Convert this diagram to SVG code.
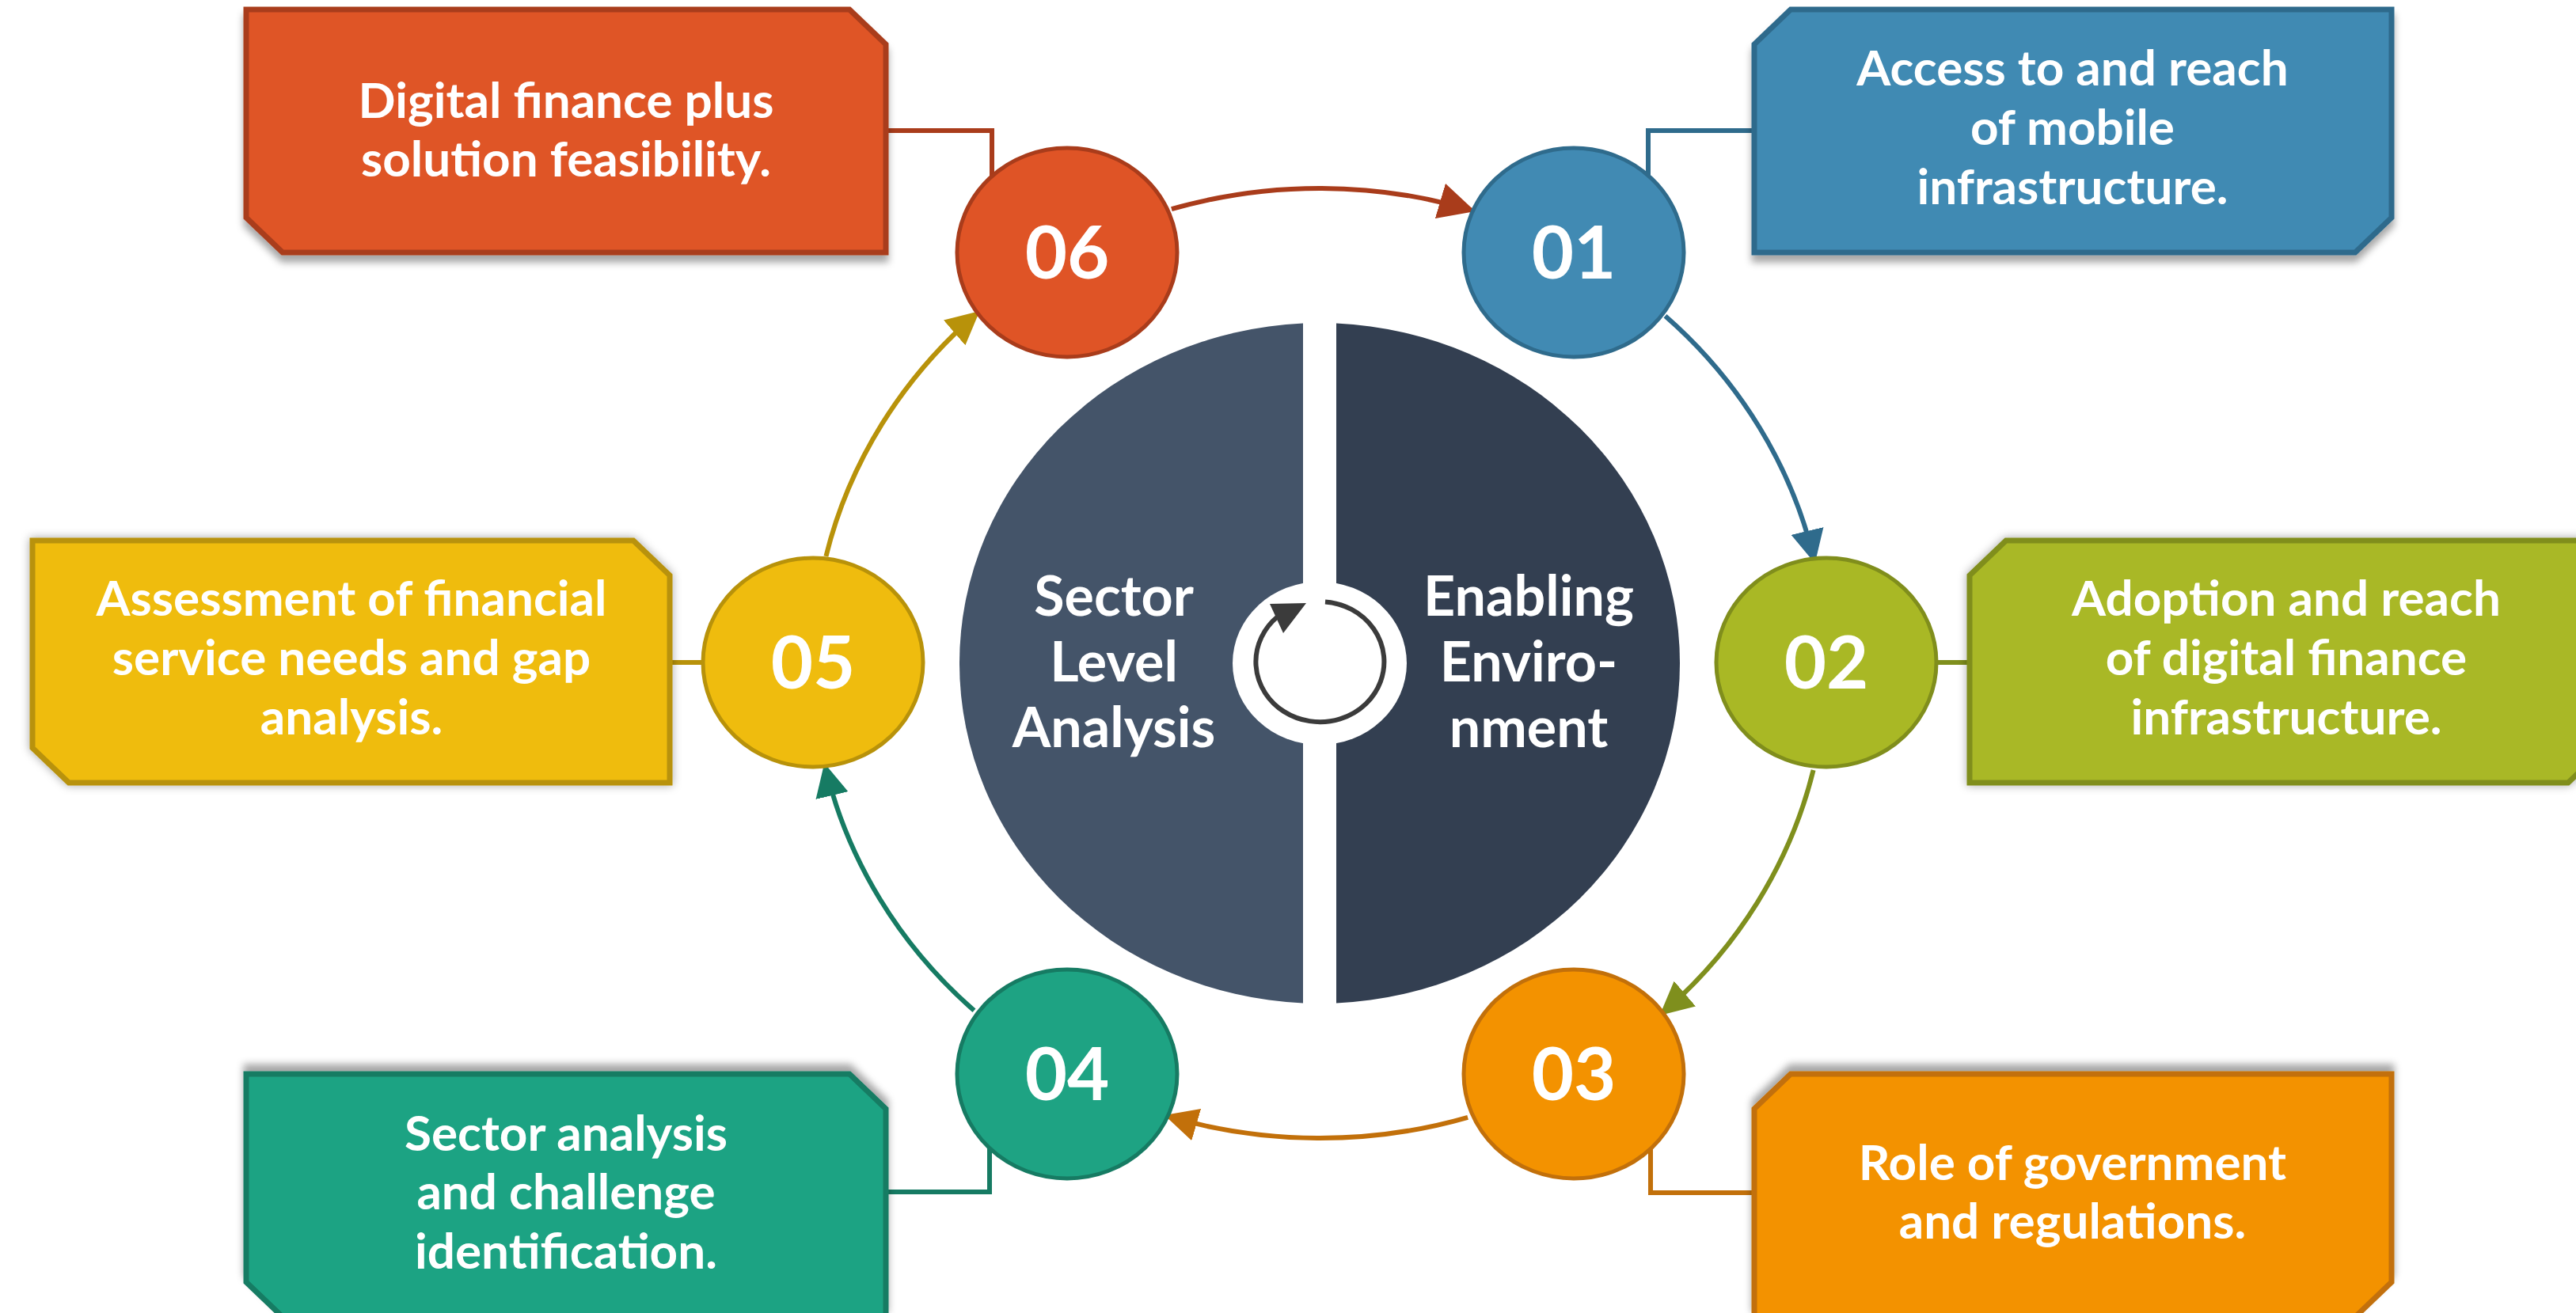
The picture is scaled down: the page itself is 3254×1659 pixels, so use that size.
<svg xmlns="http://www.w3.org/2000/svg" width="3254" height="1659" viewBox="0 0 3254 1659">
<defs>
<style>
.box{stroke-width:7;stroke-linejoin:miter}
.num{font-family:Lato,"Liberation Sans",sans-serif;font-weight:700;font-size:92px;fill:#fff;text-anchor:middle}
.bt{font-family:Lato,"Liberation Sans",sans-serif;font-weight:700;font-size:62px;fill:#fff;text-anchor:middle}
.ct{font-family:Lato,"Liberation Sans",sans-serif;font-weight:700;font-size:70px;fill:#fff;text-anchor:middle}
.arc{fill:none;stroke-width:6}
.elb{fill:none;stroke-width:6}
.c{stroke-width:5}
</style>
<filter id="shDown" x="-10%" y="-20%" width="120%" height="150%"><feDropShadow dx="0" dy="9" stdDeviation="5" flood-color="#000" flood-opacity="0.35"/></filter>
<filter id="shUp" x="-10%" y="-30%" width="120%" height="150%"><feDropShadow dx="0" dy="-9" stdDeviation="5" flood-color="#000" flood-opacity="0.35"/></filter>
<filter id="shBoth" x="-10%" y="-20%" width="120%" height="140%"><feDropShadow dx="0" dy="0" stdDeviation="6" flood-color="#000" flood-opacity="0.35"/></filter>
<marker id="m6" markerUnits="userSpaceOnUse" markerWidth="46" markerHeight="46" viewBox="0 0 44 44" refX="40" refY="22" orient="auto"><path d="M0,0 L44,22 L0,44 Z" fill="#A93C1B"/></marker>
<marker id="m1" markerUnits="userSpaceOnUse" markerWidth="42" markerHeight="42" viewBox="0 0 44 44" refX="40" refY="22" orient="auto"><path d="M0,0 L44,22 L0,44 Z" fill="#2F6B8C"/></marker>
<marker id="m2" markerUnits="userSpaceOnUse" markerWidth="42" markerHeight="42" viewBox="0 0 44 44" refX="40" refY="22" orient="auto"><path d="M0,0 L44,22 L0,44 Z" fill="#7F8F1D"/></marker>
<marker id="m3" markerUnits="userSpaceOnUse" markerWidth="42" markerHeight="42" viewBox="0 0 44 44" refX="40" refY="22" orient="auto"><path d="M0,0 L44,22 L0,44 Z" fill="#C2700A"/></marker>
<marker id="m4" markerUnits="userSpaceOnUse" markerWidth="42" markerHeight="42" viewBox="0 0 44 44" refX="40" refY="22" orient="auto"><path d="M0,0 L44,22 L0,44 Z" fill="#167B63"/></marker>
<marker id="m5" markerUnits="userSpaceOnUse" markerWidth="42" markerHeight="42" viewBox="0 0 44 44" refX="40" refY="22" orient="auto"><path d="M0,0 L44,22 L0,44 Z" fill="#B8920A"/></marker>
</defs>
<rect width="3254" height="1659" fill="#fff"/>

<g id="connectors">
<path class="elb" stroke="#A93C1B" d="M1119,165 H1253 V250"/>
<path class="elb" stroke="#2F6B8C" d="M2216,165 H2082 V250"/>
<path class="elb" stroke="#7F8F1D" d="M2488,837 H2420"/>
<path class="elb" stroke="#C2700A" d="M2216,1507 H2085 V1430"/>
<path class="elb" stroke="#167B63" d="M1119,1506 H1250 V1430"/>
<path class="elb" stroke="#B8920A" d="M846,837 H910"/>
<path class="arc" stroke="#A93C1B" stroke-width="7" marker-end="url(#m6)" d="M1479.9,264.2 A640,600 0 0 1 1859.5,265.8"/>
<path class="arc" stroke="#2F6B8C" marker-end="url(#m1)" d="M2103.5,399.2 A640,600 0 0 1 2291.8,708.1"/>
<path class="arc" stroke="#7F8F1D" marker-end="url(#m2)" d="M2290.6,973.0 A640,600 0 0 1 2099.4,1280.4"/>
<path class="arc" stroke="#C2700A" marker-end="url(#m3)" d="M1854.1,1411.8 A640,600 0 0 1 1474.6,1410.2"/>
<path class="arc" stroke="#167B63" marker-end="url(#m4)" d="M1230.5,1276.8 A640,600 0 0 1 1042.2,967.9"/>
<path class="arc" stroke="#B8920A" marker-end="url(#m5)" d="M1043.4,703.0 A640,600 0 0 1 1234.6,395.6"/>
</g>

<g id="center">
<path d="M1646,408.5 A456,430 0 0 0 1646,1267.5 Z" fill="#445469"/>
<path d="M1688,408.5 A456,430 0 0 1 1688,1267.5 Z" fill="#333F51"/>
<ellipse cx="1667" cy="838" rx="110" ry="103" fill="#fff"/>
<path d="M1674,760.4 A81,76 0 1 1 1614,779" fill="none" stroke="#3B3B3B" stroke-width="6"/>
<polygon points="1604,763 1650,762 1621,800" fill="#3B3B3B"/>
<text class="ct" x="1407" y="778">Sector</text>
<text class="ct" x="1407" y="861">Level</text>
<text class="ct" x="1407" y="944">Analysis</text>
<text class="ct" x="1931" y="778">Enabling</text>
<text class="ct" x="1931" y="861">Enviro-</text>
<text class="ct" x="1931" y="944">nment</text>
</g>

<g id="step-06">
<polygon class="box" filter="url(#shDown)" points="311,12 1073,12 1119,56 1119,319 357,319 311,275" fill="#DF5426" stroke="#A93C1B"/>
<text class="bt" x="715" y="149">Digital finance plus</text>
<text class="bt" x="715" y="223">solution feasibility.</text>
<ellipse class="c" cx="1348" cy="319" rx="139" ry="132" fill="#DF5426" stroke="#A93C1B"/>
<text class="num" x="1348" y="352">06</text>
</g>

<g id="step-01">
<polygon class="box" filter="url(#shDown)" points="2262,12 3021,12 3021,275 2975,319 2216,319 2216,56" fill="#418AB3" stroke="#2F6B8C"/>
<text class="bt" x="2618" y="108">Access to and reach</text>
<text class="bt" x="2618" y="183">of mobile</text>
<text class="bt" x="2618" y="258">infrastructure.</text>
<ellipse class="c" cx="1988" cy="319" rx="139" ry="132" fill="#418AB3" stroke="#2F6B8C"/>
<text class="num" x="1988" y="352">01</text>
</g>

<g id="step-02">
<polygon class="box" filter="url(#shBoth)" points="2534,683 3290,683 3290,945 3244,989 2488,989 2488,727" fill="#A9B825" stroke="#808E1C"/>
<text class="bt" x="2888" y="778">Adoption and reach</text>
<text class="bt" x="2888" y="853">of digital finance</text>
<text class="bt" x="2888" y="928">infrastructure.</text>
<ellipse class="c" cx="2307" cy="837" rx="139" ry="132" fill="#A9B825" stroke="#808E1C"/>
<text class="num" x="2307" y="870">02</text>
</g>

<g id="step-03">
<polygon class="box" filter="url(#shUp)" points="2262,1357 3021,1357 3021,1620 2975,1664 2216,1664 2216,1401" fill="#F39200" stroke="#C2700A"/>
<text class="bt" x="2618" y="1491">Role of government</text>
<text class="bt" x="2618" y="1565">and regulations.</text>
<ellipse class="c" cx="1988" cy="1357" rx="139" ry="132" fill="#F39200" stroke="#C2700A"/>
<text class="num" x="1988" y="1390">03</text>
</g>

<g id="step-04">
<polygon class="box" filter="url(#shUp)" points="311,1357 1073,1357 1119,1401 1119,1664 357,1664 311,1620" fill="#1EA383" stroke="#167B63"/>
<text class="bt" x="715" y="1454">Sector analysis</text>
<text class="bt" x="715" y="1528">and challenge</text>
<text class="bt" x="715" y="1603">identification.</text>
<ellipse class="c" cx="1348" cy="1357" rx="139" ry="132" fill="#1EA383" stroke="#167B63"/>
<text class="num" x="1348" y="1390">04</text>
</g>

<g id="step-05">
<polygon class="box" filter="url(#shBoth)" points="41,683 800,683 846,727 846,989 87,989 41,945" fill="#EFBC0E" stroke="#B8920A"/>
<text class="bt" x="444" y="778">Assessment of financial</text>
<text class="bt" x="444" y="853">service needs and gap</text>
<text class="bt" x="444" y="928">analysis.</text>
<ellipse class="c" cx="1027" cy="837" rx="139" ry="132" fill="#EFBC0E" stroke="#B8920A"/>
<text class="num" x="1027" y="870">05</text>
</g>
</svg>
